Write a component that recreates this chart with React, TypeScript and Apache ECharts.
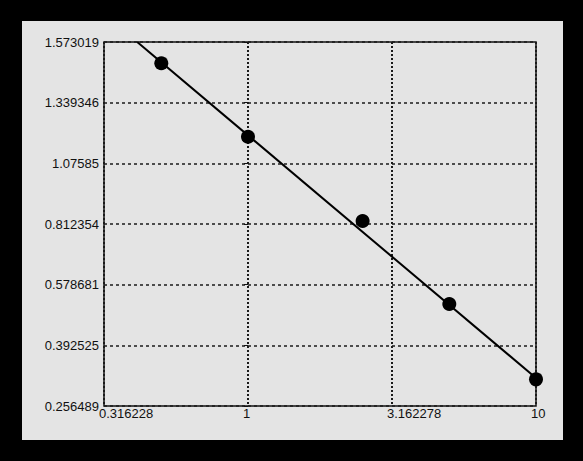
import React, { useEffect, useRef } from "react";
import * as echarts from "echarts";

const yTickLabels = ["0.256489", "0.392525", "0.578681", "0.812354", "1.07585", "1.339346", "1.573019"];
const xTickLabels = ["0.316228", "1", "3.162278", "10"];
const pointX = [0.5, 1, 2.5, 5, 10];
const pointY = [1.4822, 1.1776, 0.8222, 0.5026, 0.3026];
const fitX = [0.4124, 10];
const fitY = [1.573019, 0.3053];

const yTickValues = yTickLabels.map(Number);

// position on the chart's y scale (one unit per tick, reciprocal spacing between ticks)
function toAxisY(v: number): number {
  const r = 1 / v;
  const inv = yTickValues.map((t) => 1 / t);
  for (let i = 0; i < inv.length - 1; i++) {
    if (r <= inv[i] && r >= inv[i + 1]) {
      return i + (inv[i] - r) / (inv[i] - inv[i + 1]);
    }
  }
  return r > inv[0] ? 0 : inv.length - 1;
}

export default function App() {
  const ref = useRef<HTMLDivElement>(null);
  useEffect(() => {
    document.body.style.margin = "0";
    document.body.style.background = "#000";
    const chart = echarts.init(ref.current!, undefined, { renderer: "svg" });
    const font = "'Liberation Sans', Arial, sans-serif";
    chart.setOption({
      animation: false,
      backgroundColor: "#000",
      graphic: [
        {
          type: "rect",
          z: -10,
          shape: { x: 22, y: 21, width: 541, height: 419 },
          style: { fill: "#e4e4e4" },
          silent: true,
        },
      ],
      grid: {
        left: 104,
        top: 42,
        right: 47,
        bottom: 55,
        show: true,
        borderColor: "#111",
        borderWidth: 1.5,
        backgroundColor: "transparent",
      },
      xAxis: {
        type: "value",
        min: -0.5,
        max: 1,
        interval: 0.5,
        axisLine: { show: false },
        axisTick: { show: false },
        axisLabel: {
          color: "#111",
          fontFamily: font,
          fontSize: 13,
          margin: 1,
          align: "left",
          padding: [0, 0, 0, -5],
          formatter: (v: number) => xTickLabels[Math.round((v + 0.5) / 0.5)] ?? "",
        },
        splitLine: {
          show: true,
          lineStyle: { color: "#1a1a1a", width: 2, type: [2, 2] },
        },
      },
      yAxis: {
        type: "value",
        min: 0,
        max: 6,
        interval: 1,
        axisLine: { show: false },
        axisTick: { show: true, length: 4, lineStyle: { color: "#111", width: 1 } },
        axisLabel: {
          color: "#111",
          fontFamily: font,
          fontSize: 13,
          margin: 5,
          formatter: (v: number) => yTickLabels[Math.round(v)] ?? "",
        },
        splitLine: {
          show: true,
          lineStyle: { color: "#1a1a1a", width: 1.5, type: [3, 3] },
        },
      },
      series: [
        {
          type: "line",
          data: fitX.map((x, i) => [Math.log10(x), toAxisY(fitY[i])]),
          showSymbol: false,
          clip: false,
          lineStyle: { color: "#000", width: 2 },
          z: 3,
        },
        {
          type: "scatter",
          data: pointX.map((x, i) => [Math.log10(x), toAxisY(pointY[i])]),
          symbol: "circle",
          symbolSize: 14,
          clip: false,
          itemStyle: { color: "#000", opacity: 1 },
          z: 4,
        },
      ],
    });
    return () => chart.dispose();
  }, []);
  return <div ref={ref} style={{ width: 583, height: 461, background: "#000" }} />;
}
